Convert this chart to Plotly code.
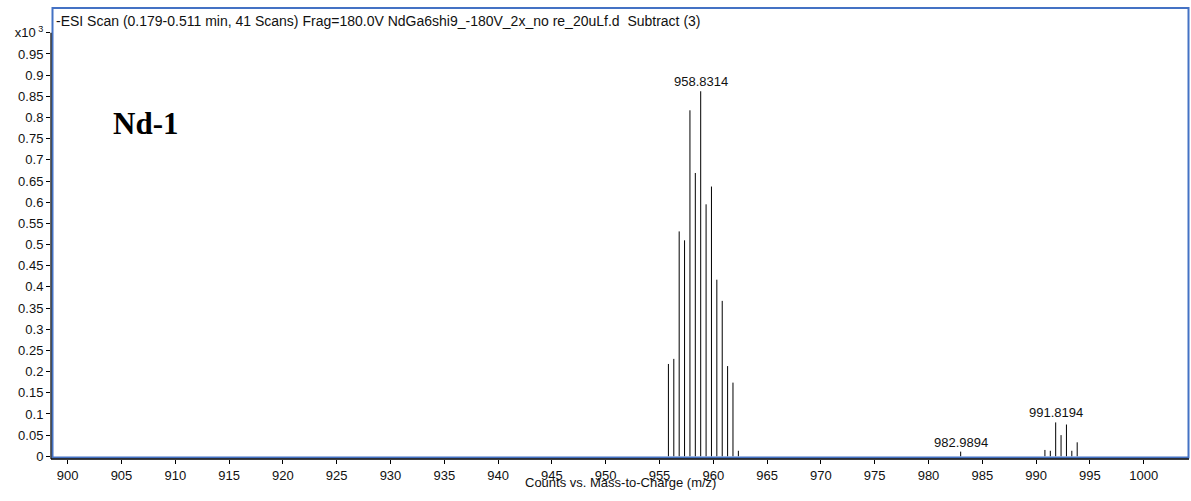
import plotly.graph_objects as go

# ---- data ----
mz_main = [955.83, 956.33, 956.83, 957.33, 957.83, 958.33, 958.83, 959.33,
           959.83, 960.33, 960.83, 961.33, 961.83, 962.33]
int_main = [0.218, 0.230, 0.531, 0.510, 0.817, 0.669, 0.862, 0.595,
            0.637, 0.417, 0.367, 0.213, 0.174, 0.013]
mz_minor = [982.99]
int_minor = [0.011]
mz_right = [990.82, 991.32, 991.82, 992.32, 992.82, 993.32, 993.82]
int_right = [0.015, 0.013, 0.080, 0.050, 0.075, 0.013, 0.033]

label_mz = [958.83, 982.99, 991.82]
label_int = [0.862, 0.011, 0.080]
label_text = ["958.8314", "982.9894", "991.8194"]

x_tickvals = list(range(900, 1001, 5))
y_tickvals = [0, 0.05, 0.1, 0.15, 0.2, 0.25, 0.3, 0.35, 0.4, 0.45, 0.5,
              0.55, 0.6, 0.65, 0.7, 0.75, 0.8, 0.85, 0.9, 0.95, 1.0]
y_ticktext = ["0", "0.05", "0.1", "0.15", "0.2", "0.25", "0.3", "0.35", "0.4",
              "0.45", "0.5", "0.55", "0.6", "0.65", "0.7", "0.75", "0.8",
              "0.85", "0.9", "0.95", "x10<sup> 3</sup>"]

title_text = "-ESI Scan (0.179-0.511 min, 41 Scans) Frag=180.0V NdGa6shi9_-180V_2x_no re_20uLf.d&nbsp;&nbsp;Subtract (3)"
xlabel = "Counts vs. Mass-to-Charge (m/z)"
sample_label = "Nd-1"

# ---- build stick spectrum ----
all_mz = mz_main + mz_minor + mz_right
all_int = int_main + int_minor + int_right
xs, ys = [], []
for m, v in zip(all_mz, all_int):
    xs += [m, m, None]
    ys += [0, v, None]

FONT = "Liberation Sans, Arial, sans-serif"
W, H = 1191, 501
ML, MR, MT, MB = 51, 2, 8, 42
PW, PH = W - ML - MR, H - MT - MB

fig = go.Figure()
fig.add_trace(go.Scatter(x=xs, y=ys, mode="lines",
                         line=dict(color="black", width=1),
                         hoverinfo="skip", showlegend=False))

annotations = []
for m, v, t in zip(label_mz, label_int, label_text):
    annotations.append(dict(x=m, y=v, xref="x", yref="y", text=t,
                            showarrow=False, yanchor="bottom", yshift=0,
                            font=dict(family=FONT, size=13, color="#111")))
annotations.append(dict(x=0, y=1, xref="paper", yref="paper", text=title_text,
                        showarrow=False, xanchor="left", yanchor="top",
                        xshift=3, yshift=-3,
                        font=dict(family=FONT, size=14, color="#111")))
annotations.append(dict(x=907.2, y=0.786, xref="x", yref="y", text="<b>" + sample_label + "</b>",
                        showarrow=False, xanchor="center", yanchor="middle",
                        font=dict(family="Liberation Serif, Times New Roman, serif", size=31, color="black")))
annotations.append(dict(x=0.5, y=0, xref="paper", yref="paper", text=xlabel,
                        showarrow=False, xanchor="center", yanchor="middle",
                        yshift=-23,
                        font=dict(family=FONT, size=13, color="#111")))

shapes = [
    # blue frame
    dict(type="rect", xref="paper", yref="paper",
         x0=1.5 / PW, x1=1 - 0.5 / PW, y0=1.5 / PH, y1=1,
         line=dict(color="#4472C4", width=2), layer="above"),
    # black y axis line (only up to 1.0)
    dict(type="line", xref="paper", yref="y", x0=0, x1=0, y0=-0.0064, y1=1.0,
         line=dict(color="black", width=1.2), layer="above"),
    # black x axis line
    dict(type="line", xref="paper", yref="paper", x0=0, x1=1, y0=0, y1=0,
         line=dict(color="black", width=1.5), layer="above"),
]

fig.update_layout(
    width=W, height=H,
    margin=dict(l=ML, r=MR, t=MT, b=MB),
    paper_bgcolor="white", plot_bgcolor="white",
    showlegend=False,
    annotations=annotations,
    shapes=shapes,
    xaxis=dict(range=[898.45, 1004.21], tickvals=x_tickvals,
               ticks="outside", ticklen=4, tickcolor="black", tickwidth=1,
               showgrid=False, zeroline=False, showline=False,
               tickfont=dict(family=FONT, size=13, color="#111")),
    yaxis=dict(range=[-0.0064, 1.0586], tickvals=y_tickvals, ticktext=y_ticktext,
               ticks="outside", ticklen=4, tickcolor="black", tickwidth=1,
               showgrid=False, zeroline=False, showline=False,
               tickfont=dict(family=FONT, size=13, color="#111")),
)

fig.write_html("out.html")
